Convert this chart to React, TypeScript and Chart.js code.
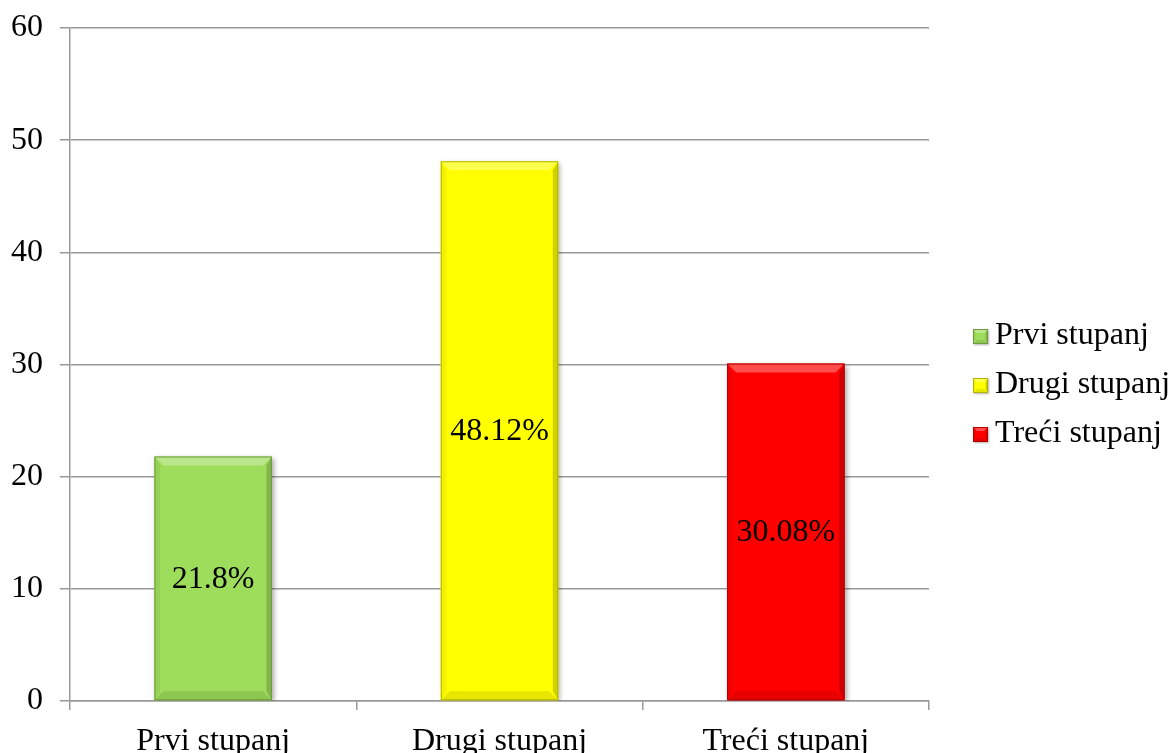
import React, { useEffect, useRef } from "react";
import { Chart, registerables } from "chart.js";

Chart.register(...registerables);

const categories = ["Prvi stupanj", "Drugi stupanj", "Treći stupanj"];
const values = [21.8, 48.12, 30.08];
const barColors = ["#9EDC5B", "#FFFF00", "#FF0000"];
const yTicks = [0, 10, 20, 30, 40, 50, 60];

const FONT = "'Liberation Serif', 'Times New Roman', serif";
const FS = 32;

function hexToRgb(h: string) {
  const n = parseInt(h.slice(1), 16);
  return [(n >> 16) & 255, (n >> 8) & 255, n & 255];
}
function mix(h: string, target: number, t: number) {
  const [r, g, b] = hexToRgb(h);
  const f = (c: number) => Math.round(c + (target - c) * t);
  return `rgb(${f(r)},${f(g)},${f(b)})`;
}

function drawBevelRect(ctx: CanvasRenderingContext2D, l: number, t: number, r: number, b: number, color: string, bv: number) {
  const poly = (pts: number[][], fill: string) => {
    ctx.beginPath();
    ctx.moveTo(pts[0][0], pts[0][1]);
    for (let i = 1; i < pts.length; i++) ctx.lineTo(pts[i][0], pts[i][1]);
    ctx.closePath();
    ctx.fillStyle = fill;
    ctx.fill();
  };
  const sb = Math.min(bv, (r - l) / 2, (b - t) / 2);
  poly([[l, t], [r, t], [r - sb, t + sb], [l + sb, t + sb]], mix(color, 255, 0.3));
  poly([[l, b], [r, b], [r - sb, b - sb], [l + sb, b - sb]], mix(color, 0, 0.1));
  poly([[l, t], [l + sb * 0.6, t + sb], [l + sb * 0.6, b - sb], [l, b]], mix(color, 0, 0.05));
  poly([[r, t], [r - sb * 0.6, t + sb], [r - sb * 0.6, b - sb], [r, b]], mix(color, 0, 0.18));
  ctx.strokeStyle = mix(color, 0, 0.3);
  ctx.lineWidth = 1;
  ctx.strokeRect(l + 0.5, t + 0.5, r - l - 1, b - t - 1);
}

const bevelPlugin = {
  id: "bevelBars",
  beforeDatasetsDraw(chart: any) {
    const ctx = chart.ctx;
    ctx.save();
    ctx.shadowColor = "rgba(0,0,0,0.35)";
    ctx.shadowBlur = 5;
    ctx.shadowOffsetX = 2;
    ctx.shadowOffsetY = 2;
  },
  afterDatasetsDraw(chart: any) {
    const ctx = chart.ctx;
    ctx.restore();
    const meta = chart.getDatasetMeta(0);
    meta.data.forEach((el: any, i: number) => {
      const { x, y, base, width } = el.getProps(["x", "y", "base", "width"], true);
      const l = x - width / 2;
      const r = x + width / 2;
      ctx.save();
      drawBevelRect(ctx, l, y, r, base, barColors[i], 9);
      ctx.fillStyle = "#000";
      ctx.font = `${FS}px ${FONT}`;
      ctx.textAlign = "center";
      ctx.textBaseline = "middle";
      ctx.fillText(String(values[i]) + "%", x, (y + base) / 2 + 1);
      ctx.restore();
    });
  },
  afterDraw(chart: any) {
    const ctx = chart.ctx;
    ctx.save();
    const startY = 336;
    const step = 49;
    categories.forEach((c, i) => {
      const cy = startY + i * step;
      ctx.shadowColor = "rgba(0,0,0,0.3)";
      ctx.shadowBlur = 2;
      ctx.shadowOffsetX = 1;
      ctx.shadowOffsetY = 1;
      ctx.fillStyle = barColors[i];
      ctx.fillRect(973, cy - 7, 15, 15);
      ctx.shadowColor = "transparent";
      drawBevelRect(ctx, 973, cy - 7, 988, cy + 8, barColors[i], 4);
      ctx.fillStyle = "#000";
      ctx.font = `${FS}px ${FONT}`;
      ctx.textAlign = "left";
      ctx.textBaseline = "middle";
      ctx.fillText(c, 995, cy);
    });
    ctx.restore();
  },
};

export default function App() {
  const ref = useRef<HTMLCanvasElement | null>(null);
  useEffect(() => {
    if (!ref.current) return;
    const chart = new Chart(ref.current, {
      type: "bar",
      data: {
        labels: categories,
        datasets: [
          {
            data: values,
            backgroundColor: barColors,
            borderWidth: 0,
            barPercentage: 0.41,
            categoryPercentage: 1,
          },
        ],
      },
      plugins: [bevelPlugin],
      options: {
        animation: false,
        responsive: false,
        devicePixelRatio: 1,
        layout: { padding: { top: 28, right: 244, left: 0, bottom: 0 } },
        plugins: { legend: { display: false }, tooltip: { enabled: false } },
        scales: {
          x: {
            afterFit: (s: any) => {
              s.height = 52;
              s.paddingLeft = 0;
              s.paddingRight = 0;
            },
            grid: {
              offset: true,
              drawOnChartArea: false,
              drawTicks: true,
              tickLength: 9,
              color: "#999",
              lineWidth: 1.5,
            },
            border: { color: "#999", width: 1.5 },
            ticks: {
              color: "#000",
              font: { family: FONT, size: FS },
              padding: 12,
              maxRotation: 0,
            },
          },
          y: {
            min: 0,
            max: 60,
            afterFit: (s: any) => {
              s.width = 70;
              s.paddingTop = 0;
              s.paddingBottom = 0;
            },
            afterBuildTicks: (s: any) => {
              s.ticks = yTicks.map((v) => ({ value: v }));
            },
            grid: {
              color: "#999",
              lineWidth: 1.5,
              tickLength: 10,
            },
            border: { color: "#999", width: 1.5 },
            ticks: {
              color: "#000",
              font: { family: FONT, size: FS },
              padding: 17,
            },
          },
        },
      },
    });
    return () => chart.destroy();
  }, []);
  return (
    <div style={{ position: "absolute", left: 0, top: 0, width: 1173, height: 753, background: "#fff" }}>
      <canvas ref={ref} width={1173} height={753} style={{ width: 1173, height: 753, display: "block" }} />
    </div>
  );
}
